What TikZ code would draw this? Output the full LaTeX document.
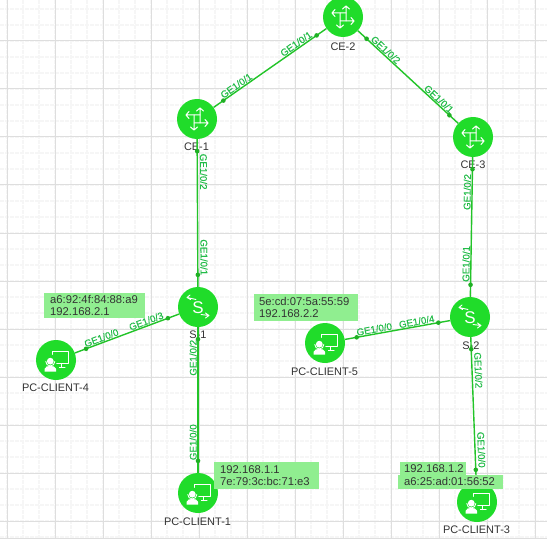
\documentclass[tikz,border=0pt]{standalone}
\usepackage{fontspec}
\setmainfont{Liberation Sans}
\newfontfamily\portfont[FakeBold=0.35]{Liberation Sans}
\definecolor{nodegreen}{HTML}{20DC2A}
\definecolor{linkgreen}{HTML}{22C428}
\definecolor{portgreen}{HTML}{22BC48}
\definecolor{infogreen}{HTML}{90EE90}
\definecolor{majorgrid}{HTML}{DEDEDE}
\definecolor{minorgrid}{HTML}{F6F6F6}
\definecolor{captext}{HTML}{333333}
\tikzset{
  x=1bp,y=-1bp,
  device/.style={circle,fill=nodegreen,minimum size=40bp,inner sep=0pt},
  link/.style={draw=linkgreen,line width=1.4bp},
  portdot/.style={circle,fill=linkgreen!90!black,minimum size=4.6bp,inner sep=0pt},
  port/.style={font=\portfont\fontsize{9.8}{10}\selectfont,text=portgreen,sloped,allow upside down,above=0.6bp,inner sep=0pt},
  devcap/.style={font=\fontsize{11}{12}\selectfont,text=captext,inner sep=0pt},
  info/.style={fill=infogreen,text=captext,inner sep=0pt,align=left,font=\fontsize{11.3}{12}\selectfont},
  icon/.style={draw=white,line width=1bp,line cap=round,line join=round},
  routericon/.pic={
    \draw[icon] (3,-4)--(-11,-4) (-8,-7.5)--(-11,-4)--(-8,-0.5);
    \draw[icon] (-3,4)--(11,4) (8,0.5)--(11,4)--(8,7.5);
    \draw[icon] (3,4)--(3,-11) (-0.5,-8)--(3,-11)--(6.5,-8);
    \draw[icon] (-3,-4)--(-3,11) (-6.5,8)--(-3,11)--(0.5,8);
  },
  switchicon/.pic={
    \node[text=white,inner sep=0pt,font=\fontsize{17}{17}\selectfont] (-sletter) at (0,0.5) {S};
    \draw[icon,line width=0.9bp] (-2,-7.5)--(-11,-9.5) (-8,-12)--(-11,-9.5)--(-7.5,-7.5);
    \draw[icon,line width=0.9bp] (3,7.5)--(11,8.5) (7.5,6)--(11,8.5)--(7.5,11);
  },
  pcicon/.pic={
    \draw[icon,line width=1bp] (-4,-9) rectangle (12,3.7);
    \draw[icon,line width=1bp] (5,3.7)--(5,7.5) (1,7.7)--(9,7.7);
    \fill[nodegreen] (-5.7,1) circle (6.6);
    \fill[nodegreen] (-12,5) rectangle (3,12);
    \draw[icon,line width=0.9bp] (-10.2,1.5) arc (180:360:4.5 and -4.5);
    \fill[white] (-5.7,1.2) circle (3.4);
    \fill[white] (-11.5,11.5) -- (-11.5,9) .. controls (-11,6.2) and (-8,6) .. (-5.7,6) .. controls (-3.2,6) and (-0.5,6.2) .. (0.2,9) -- (0.2,11.5) -- cycle;
  },
}
\begin{document}
\begin{tikzpicture}
\useasboundingbox (0,0) rectangle (547,544);
\fill[white] (0,0) rectangle (547,544);
% grid
\foreach \k in {0,...,33}{
  \draw[minorgrid,line width=1.4bp,dash pattern=on 4bp off 1bp] ({7+16*\k},0)--({7+16*\k},538);
}
\foreach \k in {0,...,33}{
  \draw[minorgrid,line width=1.4bp,dash pattern=on 4bp off 1bp] (0,{9+16*\k})--(547,{9+16*\k});
}
\foreach \k in {0,...,11}{
  \draw[majorgrid,line width=1bp] ({7+48*\k},0)--({7+48*\k},538);
}
\foreach \k in {0,...,10}{
  \draw[majorgrid,line width=1bp] (0,{41+48*\k})--(547,{41+48*\k});
}
\draw[majorgrid,line width=1bp] (0,538)--(547,538);

% devices
\node[device] (ce1) at (197,119) {};
\node[device] (ce2) at (343,17) {};
\node[device] (ce3) at (473,137) {};
\node[device] (s1) at (198,307) {};
\node[device] (s2) at (470,317) {};
\node[device] (pc4) at (56,360) {};
\node[device] (pc5) at (325,343) {};
\node[device] (pc1) at (198,493) {};
\node[device] (pc3) at (477,502) {};
\pic (i1) at (ce1) {routericon};
\pic (i2) at (ce2) {routericon};
\pic (i3) at (ce3) {routericon};
\pic (i4) at (s1) {switchicon};
\pic (i5) at (s2) {switchicon};
\pic (i6) at (pc4) {pcicon};
\pic (i7) at (pc5) {pcicon};
\pic (i8) at (pc1) {pcicon};
\pic (i9) at (pc3) {pcicon};

% captions
\node[devcap] (t1) at (196.5,147) {CE-1};
\node[devcap] (t2) at (343,47) {CE-2};
\node[devcap] (t3) at (473,165) {CE-3};
\node[devcap] (t4) at (198,335) {S-1};
\node[devcap] (t5) at (471,346) {S-2};
\node[devcap] (t6) at (55.5,388) {PC-CLIENT-4};
\node[devcap] (t7) at (324.5,372) {PC-CLIENT-5};
\node[devcap] (t8) at (197.5,522) {PC-CLIENT-1};
\node[devcap] (t9) at (476.5,530) {PC-CLIENT-3};

% links
\draw[link] (ce1)--(ce2)
  node[portdot,pos=.087] (d1a) {} node[portdot,pos=.913] (d1b) {}
  node[port,pos=.225] (p1a) {GE1/0/1} node[port,pos=.755] (p1b) {GE1/0/1};
\draw[link] (ce2)--(ce3)
  node[portdot,pos=.087] (d2a) {} node[portdot,pos=.913] (d2b) {}
  node[port,pos=.245] (p2a) {GE1/0/2} node[port,pos=.775] (p2b) {GE1/0/1};
\draw[link] (ce1)--(s1)
  node[portdot,pos=.081] (d3a) {} node[portdot,pos=.919] (d3b) {}
  node[port,pos=.22,above=1.4bp] (p3a) {GE1/0/2} node[port,pos=.80,above=1.4bp] (p3b) {GE1/0/1};
\draw[link] (pc1)--(s1)
  node[portdot,pos=.082] (d4a) {} node[portdot,pos=.918] (d4b) {}
  node[port,pos=.21] (p4a) {GE1/0/0} node[port,pos=.79] (p4b) {GE1/0/2};
\draw[link] (s2)--(ce3)
  node[portdot,pos=.086] (d5a) {} node[portdot,pos=.914] (d5b) {}
  node[port,pos=.235] (p5a) {GE1/0/1} node[port,pos=.75] (p5b) {GE1/0/2};
\draw[link] (pc4)--(s1)
  node[portdot,pos=.107] (d6a) {} node[portdot,pos=.893] (d6b) {}
  node[port,pos=.27] (p6a) {GE1/0/0} node[port,pos=.70] (p6b) {GE1/0/3};
\draw[link] (pc5)--(s2)
  node[portdot,pos=.112] (d7a) {} node[portdot,pos=.888] (d7b) {}
  node[port,pos=.287] (p7a) {GE1/0/0} node[port,pos=.69] (p7b) {GE1/0/4};
\draw[link] (s2)--(pc3)
  node[portdot,pos=.083] (d8a) {} node[portdot,pos=.917] (d8b) {}
  node[port,pos=.23,above=1.4bp] (p8a) {GE1/0/2} node[port,pos=.78,above=1.4bp] (p8b) {GE1/0/0};

% info boxes
\node[info,anchor=north west,minimum width=101bp,minimum height=25bp,text width=101bp] (b4) at (44,293) {\hspace*{6bp}a6:92:4f:84:88:a9\\\hspace*{6bp}192.168.2.1};
\node[info,anchor=north west,minimum width=104bp,minimum height=27bp,text width=104bp] (b5) at (254,294) {\hspace*{5bp}5e:cd:07:5a:55:59\\\hspace*{5bp}192.168.2.2};
\node[info,anchor=north west,minimum width=105bp,minimum height=27bp,text width=105bp] (b1) at (214,462) {\hspace*{6bp}192.168.1.1\\\hspace*{6bp}7e:79:3c:bc:71:e3};
\node[info,anchor=north west,minimum width=66bp,minimum height=13.5bp,text width=66bp] (b3a) at (400,462) {\hspace*{4bp}192.168.1.2};
\node[info,anchor=north west,minimum width=105bp,minimum height=13.5bp,text width=105bp] (b3b) at (398,475) {\hspace*{6bp}a6:25:ad:01:56:52};
\end{tikzpicture}
\end{document}
